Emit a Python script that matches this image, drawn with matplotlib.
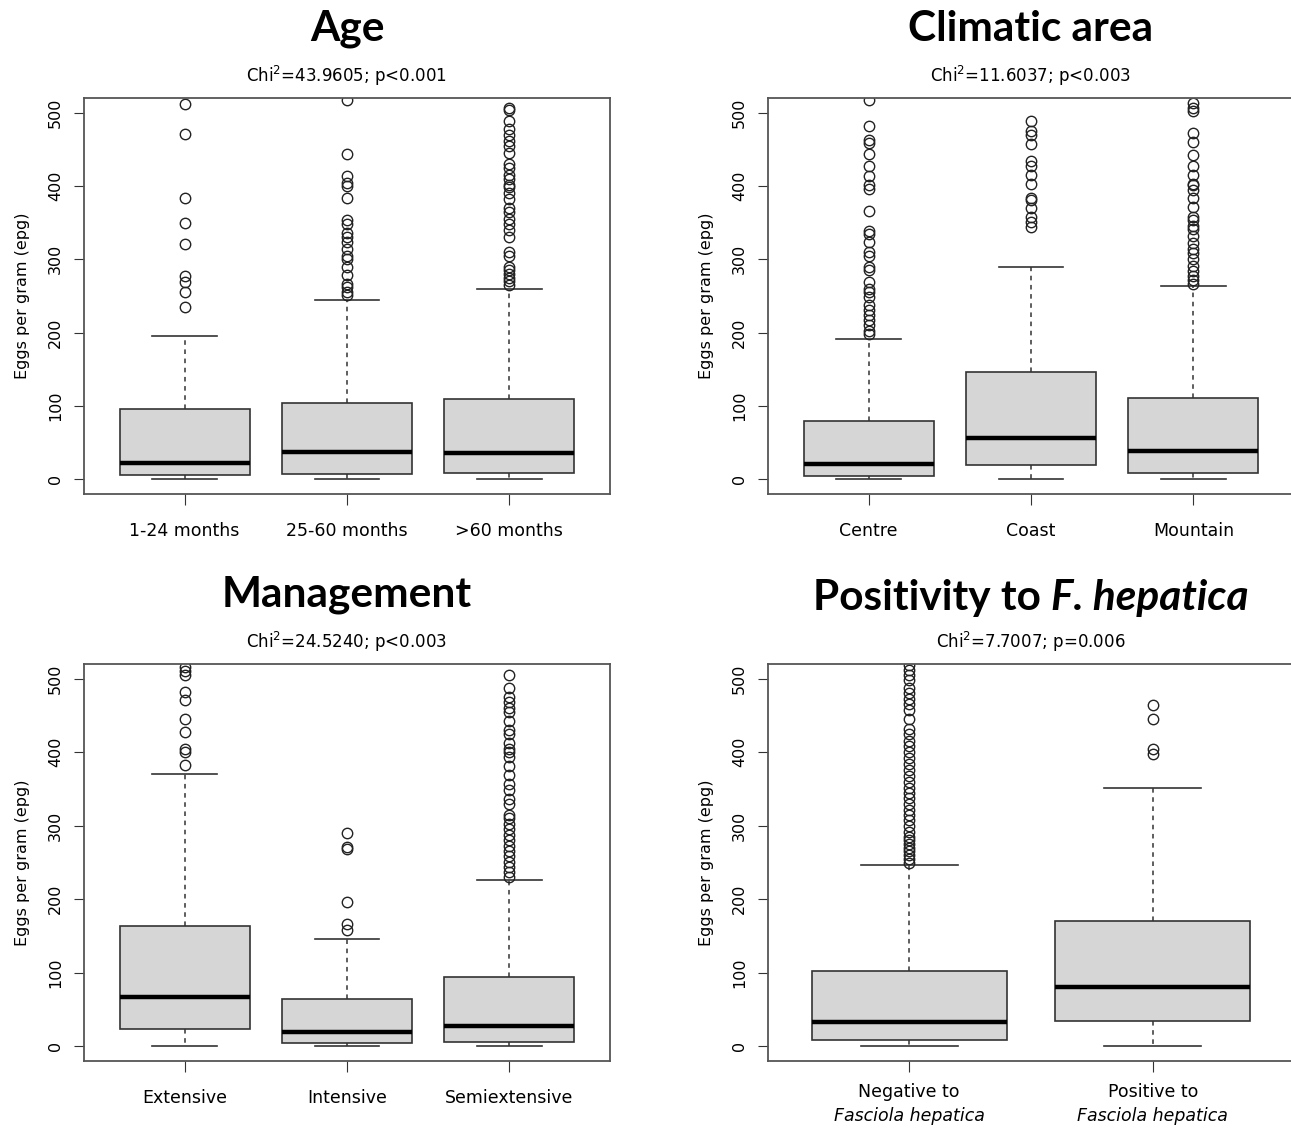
import matplotlib
matplotlib.use("Agg")
import matplotlib.pyplot as plt

# ---------------- datos ----------------
# cada caja: q1, mediana, q3, bigote bajo, bigote alto, outliers

age_labels = ["1-24 months", "25-60 months", ">60 months"]
age_q1 = [6, 7, 9]
age_med = [22, 37, 36]
age_q3 = [96, 104, 110]
age_lo = [0, 0, 0]
age_hi = [195, 245, 260]
age_out = [
    [512, 471, 383, 350, 321, 277, 269, 256, 235],
    [517, 443, 413, 404, 400, 384, 353, 348, 336, 330, 324, 314, 305, 300,
     290, 279, 266, 262, 256, 252],
    [507, 503, 488, 478, 470, 462, 455, 445, 430, 425, 415, 410, 402, 398,
     390, 382, 370, 365, 355, 348, 340, 330, 310, 305, 290, 285, 280, 275,
     270, 265],
]

clim_labels = ["Centre", "Coast", "Mountain"]
clim_q1 = [5, 20, 9]
clim_med = [21, 56, 39]
clim_q3 = [80, 146, 111]
clim_lo = [0, 0, 0]
clim_hi = [192, 290, 264]
clim_out = [
    [517, 482, 463, 458, 444, 427, 413, 401, 396, 366, 339, 334, 324, 310,
     305, 289, 286, 269, 260, 255, 248, 238, 231, 224, 217, 210, 202, 198],
    [488, 475, 470, 457, 434, 427, 415, 403, 384, 381, 370, 358, 351, 344],
    [513, 506, 502, 472, 460, 442, 427, 415, 403, 401, 394, 383, 372, 358,
     353, 346, 341, 332, 322, 314, 308, 301, 291, 284, 277, 272, 266],
]

man_labels = ["Extensive", "Intensive", "Semiextensive"]
man_q1 = [23, 4, 6]
man_med = [67, 20, 28]
man_q3 = [164, 65, 94]
man_lo = [0, 0, 0]
man_hi = [371, 146, 226]
man_out = [
    [516, 511, 505, 482, 471, 445, 428, 404, 400, 383],
    [290, 271, 268, 196, 167, 158],
    [505, 488, 475, 468, 460, 455, 443, 430, 425, 413, 405, 400, 393, 381,
     369, 357, 348, 336, 329, 315, 310, 302, 295, 288, 280, 273, 266, 259,
     251, 244, 237, 230],
]

fh_labels = [("Negative to", "Fasciola hepatica"), ("Positive to", "Fasciola hepatica")]
fh_q1 = [8, 34]
fh_med = [33, 81]
fh_q3 = [102, 170]
fh_lo = [0, 0]
fh_hi = [246, 351]
fh_out = [
    [518, 512, 505, 498, 488, 480, 472, 465, 458, 445, 432, 425, 415, 408,
     400, 392, 384, 376, 368, 360, 352, 345, 338, 330, 322, 315, 308, 300,
     292, 285, 280, 275, 270, 265, 260, 255, 250],
    [464, 445, 404, 398],
]

chi_txt = [r"Chi$^{2}$=43.9605; p<0.001", r"Chi$^{2}$=11.6037; p<0.003",
           r"Chi$^{2}$=24.5240; p<0.003", r"Chi$^{2}$=7.7007; p=0.006"]

W, H = 1291, 1128
fig = plt.figure(figsize=(W / 100, H / 100), dpi=100)
plt.rcParams['font.family'] = ['DejaVu Sans']
plt.rcParams['mathtext.default'] = 'regular'

linecol = '#333333'


def px_axes(l, t, r, b):
    return fig.add_axes([l / W, 1 - b / H, (r - l) / W, (b - t) / H])


def hacer_caja(ax, q1, med, q3, lo, hi, out):
    stats = []
    for i in range(len(q1)):
        stats.append(dict(q1=q1[i], med=med[i], q3=q3[i], whislo=lo[i],
                          whishi=hi[i], fliers=out[i]))
    n = len(q1)
    ax.bxp(stats, positions=range(1, n + 1), widths=0.8, patch_artist=True,
           showcaps=True,
           boxprops=dict(facecolor='#d6d6d6', edgecolor=linecol, linewidth=1.2),
           medianprops=dict(color='black', linewidth=3.2, solid_capstyle='butt'),
           whiskerprops=dict(color=linecol, linewidth=1.1, linestyle=(0, (3, 3))),
           capprops=dict(color=linecol, linewidth=1.2),
           flierprops=dict(marker='o', markersize=7.5, markerfacecolor='none',
                           markeredgecolor='#222222', markeredgewidth=1.0))
    ax.set_xlim(0.5 - 0.04 * n, n + 0.5 + 0.04 * n)
    ax.set_ylim(-20, 520)
    ax.set_yticks([0, 100, 200, 300, 400, 500])
    ax.tick_params(axis='y', labelrotation=90, labelsize=11.5, length=7,
                   color=linecol, pad=8)
    ax.tick_params(axis='x', labelsize=12.5, length=8, color=linecol, pad=12)
    for lab in ax.get_yticklabels():
        lab.set_va('center')
    for s in ax.spines.values():
        s.set_color('#555555')
        s.set_linewidth(1.3)
    ax.set_ylabel("Eggs per gram (epg)", fontsize=11.5, labelpad=13)


ax1 = px_axes(84, 98, 610, 494)
ax2 = px_axes(768, 98, 1294, 494)
ax3 = px_axes(84, 664, 610, 1061)
ax4 = px_axes(768, 664, 1294, 1061)

hacer_caja(ax1, age_q1, age_med, age_q3, age_lo, age_hi, age_out)
ax1.set_xticklabels(age_labels)
hacer_caja(ax2, clim_q1, clim_med, clim_q3, clim_lo, clim_hi, clim_out)
ax2.set_xticklabels(clim_labels)
hacer_caja(ax3, man_q1, man_med, man_q3, man_lo, man_hi, man_out)
ax3.set_xticklabels(man_labels)
hacer_caja(ax4, fh_q1, fh_med, fh_q3, fh_lo, fh_hi, fh_out)
ax4.set_xticklabels(["", ""])
for i, (a, b) in enumerate(fh_labels):
    ax4.annotate(a, xy=(i + 1, 0), xycoords=('data', 'axes fraction'),
                 xytext=(0, -31), textcoords='offset pixels', ha='center',
                 va='center', fontsize=12.5)
    ax4.annotate(b, xy=(i + 1, 0), xycoords=('data', 'axes fraction'),
                 xytext=(0, -55), textcoords='offset pixels', ha='center',
                 va='center', fontsize=12.5, style='italic')

titles = ["Age", "Climatic area", "Management", None]
for ax, t, c in zip([ax1, ax2, ax3, ax4], titles, chi_txt):
    ax.annotate(c, xy=(0.5, 1), xycoords='axes fraction', xytext=(0, 22),
                textcoords='offset pixels', ha='center', va='center',
                fontsize=12)
    if t is not None:
        ax.annotate(t, xy=(0.5, 1), xycoords='axes fraction', xytext=(0, 69),
                    textcoords='offset pixels', ha='center', va='center',
                    fontsize=30.5, fontweight='bold', family='Lato')

# titulo con parte en cursiva
t1 = ax4.annotate("Positivity to ", xy=(0.5, 1), xycoords='axes fraction',
                  xytext=(0, 54), textcoords='offset pixels', ha='left',
                  va='baseline', fontsize=30.5, fontweight='bold', family='Lato')
t2 = ax4.annotate("F. hepatica", xy=(1, 0), xycoords=t1, ha='left',
                  va='bottom', fontsize=30.5, fontweight='bold', style='italic',
                  family='Lato')
fig.canvas.draw()
r = fig.canvas.get_renderer()
w1 = t1.get_window_extent(r).width
w2 = t2.get_window_extent(r).width
t1.xyann = (-(w1 + w2) / 2, 54)

fig.savefig("out.png", dpi=100, facecolor='white')
